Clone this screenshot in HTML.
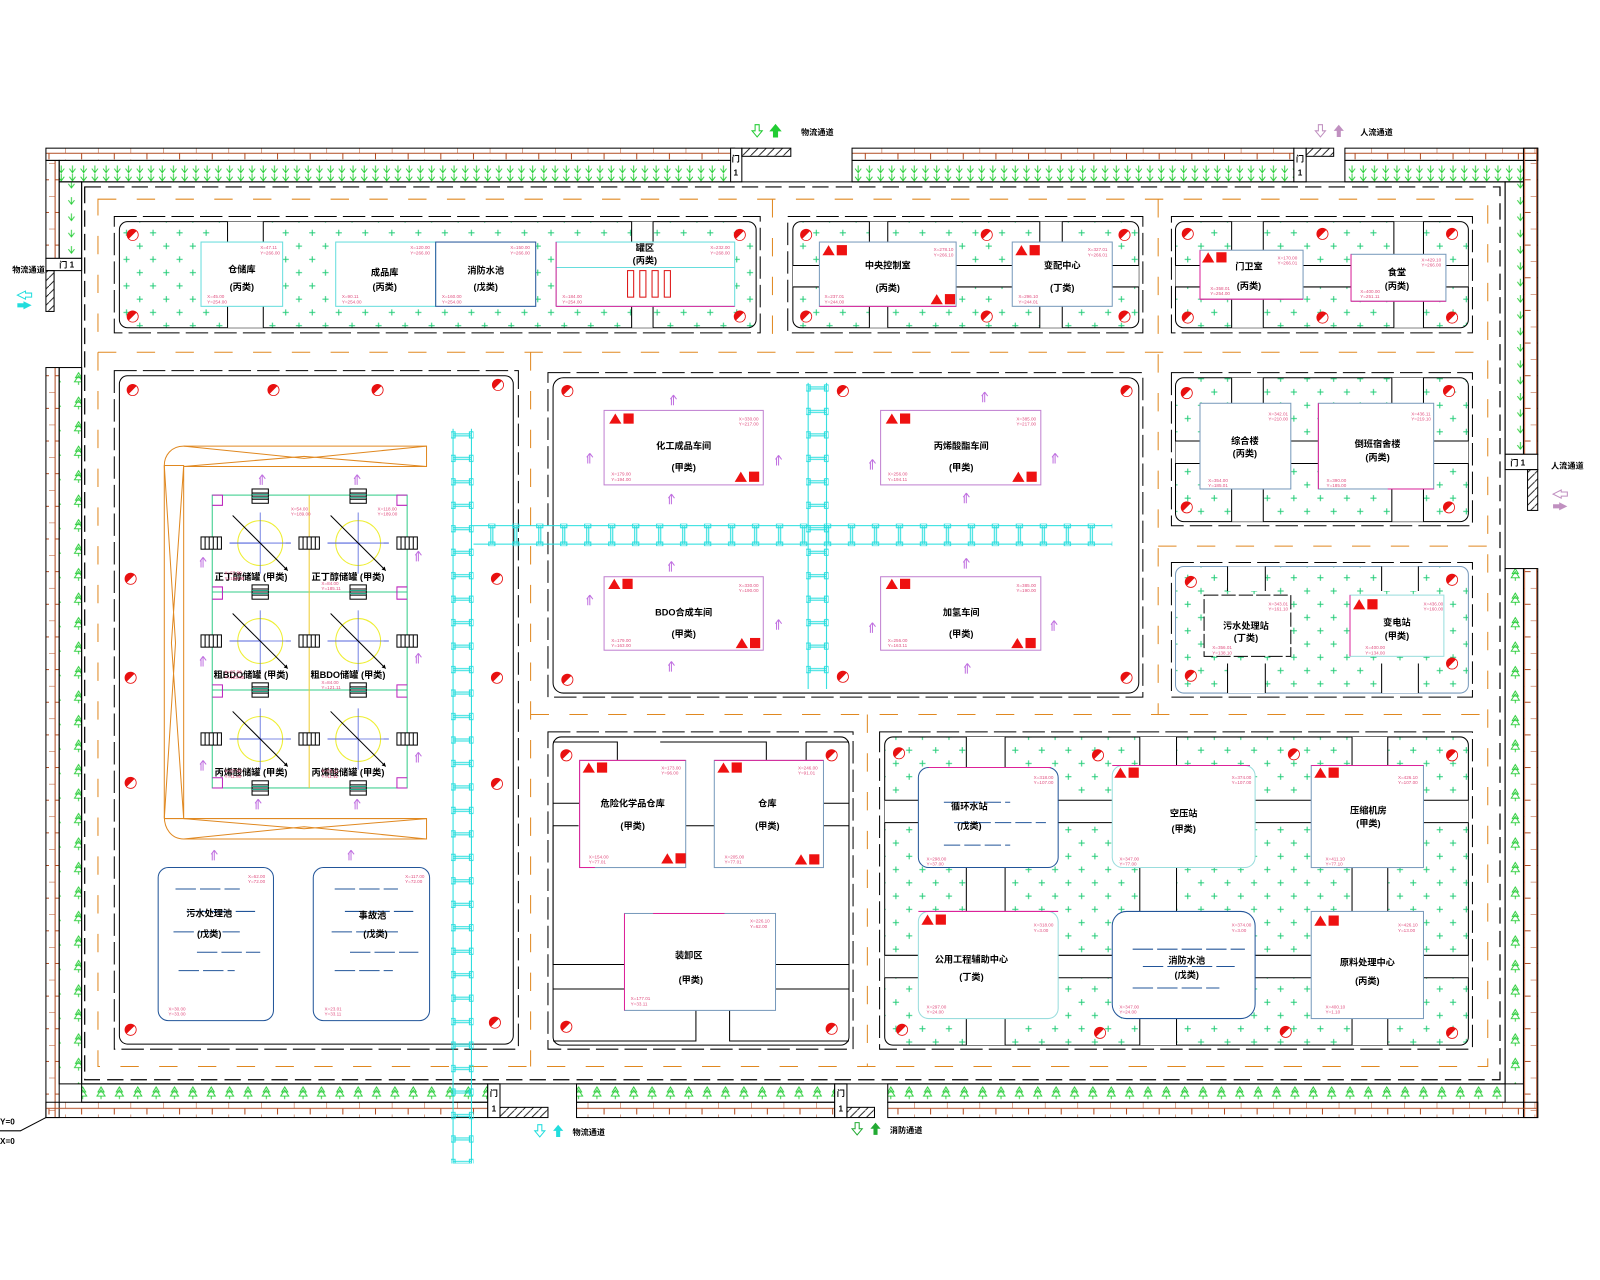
<!DOCTYPE html>
<html><head><meta charset="utf-8"><style>
html,body{margin:0;padding:0;background:#fff;}
svg{display:block;}
.t{font-family:"Liberation Sans","Noto Sans CJK SC",sans-serif;font-size:9px;font-weight:bold;fill:#000;text-anchor:middle;}
.p{font-family:"Liberation Sans",sans-serif;font-size:4.5px;fill:#e05080;}
.s{font-family:"Liberation Sans","Noto Sans CJK SC",sans-serif;font-size:8px;font-weight:bold;fill:#000;}
</style></head><body>
<svg width="1600" height="1280" viewBox="0 0 1568 1254" xmlns="http://www.w3.org/2000/svg">
<defs>
<pattern id="cr" width="26" height="26" patternUnits="userSpaceOnUse">
<path d="M4 7h6M7 4v6M17 20h6M20 17v6" stroke="#22cc77" stroke-width="1"/></pattern>
<pattern id="bh" width="32" height="12" patternUnits="userSpaceOnUse">
<path d="M0 6h32M0 0v6M16 6v6" stroke="#b04a20" stroke-width="1" fill="none"/></pattern>
<pattern id="bv" width="12" height="32" patternUnits="userSpaceOnUse">
<path d="M6 0v32M0 0h6M6 16h6" stroke="#b04a20" stroke-width="1" fill="none"/></pattern>
<pattern id="ad" width="11" height="20" patternUnits="userSpaceOnUse">
<path d="M2 5l3 4l3-4M5 2v7M2 13l3 4l3-4M5 10v7" stroke="#22cc33" stroke-width="0.9" fill="none"/></pattern>
<pattern id="adv" width="20" height="16" patternUnits="userSpaceOnUse">
<path d="M7 4l3 4l3-4M10 1v7" stroke="#22cc33" stroke-width="0.9" fill="none"/></pattern>
<pattern id="trh" width="18" height="18" patternUnits="userSpaceOnUse">
<path d="M9 3l-3 5h6zM9 6l-4 6h8zM9 12v3" stroke="#22cc33" stroke-width="0.9" fill="none"/></pattern>
<pattern id="trv" width="22" height="24" patternUnits="userSpaceOnUse">
<path d="M11 5l-3 5h6zM11 8l-4 6h8zM11 14v3" stroke="#22cc33" stroke-width="0.9" fill="none"/></pattern>
<pattern id="lv" width="22" height="23" patternUnits="userSpaceOnUse" x="442">
<path d="M2 0v23M20 0v23M2 11h18M2 13h18" stroke="#22dddd" stroke-width="1"/>
<rect x="0" y="9" width="4" height="6" fill="none" stroke="#22dddd"/><rect x="18" y="9" width="4" height="6" fill="none" stroke="#22dddd"/></pattern>
<pattern id="lv2" width="22" height="23" patternUnits="userSpaceOnUse" x="790">
<path d="M2 0v23M20 0v23M2 11h18M2 13h18" stroke="#22dddd" stroke-width="1"/>
<rect x="0" y="9" width="4" height="6" fill="none" stroke="#22dddd"/><rect x="18" y="9" width="4" height="6" fill="none" stroke="#22dddd"/></pattern>
<pattern id="lh" width="23.5" height="22" patternUnits="userSpaceOnUse" y="513">
<path d="M0 2h23.5M0 20h23.5M11 2v18M13 2v18" stroke="#22dddd" stroke-width="1"/>
<rect x="9" y="0" width="6" height="4" fill="none" stroke="#22dddd"/><rect x="9" y="18" width="6" height="4" fill="none" stroke="#22dddd"/></pattern>
<pattern id="hat" width="8" height="8" patternUnits="userSpaceOnUse"><path d="M0 8L8 0" stroke="#000" stroke-width="0.8"/></pattern>
<g id="hy"><circle r="5.5" fill="#e81010"/><path d="M-4 4A5.5 5.5 0 0 0 4 -4Z" fill="#fff"/><circle r="5.5" fill="none" stroke="#e81010" stroke-width="0.8"/></g>
<g id="fi"><polygon points="0,10 6,0 12,10" fill="#ee1111"/><rect x="14" y="0" width="10" height="10" fill="#ee1111"/></g>
<g id="ua"><path d="M0 0l-3 4M0 0l3 4M0 0v10M-2 3v7" stroke="#c070e0" stroke-width="1" fill="none"/></g>
<g id="tank"><circle r="22" fill="none" stroke="#eeee33"/><path d="M-30 0h30M30 0h-5" stroke="#5566dd"/><path d="M0 -30v60M-30 0h60" stroke="#5566dd" stroke-width="0.8"/><path d="M-27 -27L27 27" stroke="#000" stroke-width="1"/><path d="M27 27l-4-1l3-3z" fill="#000"/></g>
<g id="lad"><rect x="-8" y="-7" width="16" height="14" fill="#fff" stroke="#000"/><path d="M-8 -3h16M-8 0h16M-8 3h16" stroke="#000"/><path d="M-8 -1.5h16M-8 1.5h16" stroke="#2a8"/></g>
<g id="ladv"><rect x="-10" y="-6" width="20" height="12" fill="#fff" stroke="#000"/><path d="M-6 -6v12M-2 -6v12M2 -6v12M6 -6v12" stroke="#000"/></g>
</defs>

<!-- WALLS top -->
<rect x="45" y="145" width="675" height="12" fill="url(#bh)" stroke="#000" stroke-width="1"/>
<rect x="58" y="157" width="662" height="21" fill="url(#ad)" stroke="#000"/>
<rect x="716" y="145" width="11" height="33" fill="#fff" stroke="#000"/><text x="721" y="158" class="s" text-anchor="middle" font-size="6">门</text><text x="721" y="172" class="s" text-anchor="middle" font-size="7">1</text>
<rect x="727" y="145" width="48" height="8" fill="url(#hat)" stroke="#000"/>
<rect x="835" y="145" width="433" height="12" fill="url(#bh)" stroke="#000"/>
<rect x="835" y="157" width="433" height="21" fill="url(#ad)" stroke="#000"/>
<rect x="1268" y="145" width="12" height="33" fill="#fff" stroke="#000"/><text x="1274" y="158" class="s" text-anchor="middle" font-size="6">门</text><text x="1274" y="172" class="s" text-anchor="middle" font-size="7">1</text>
<rect x="1280" y="145" width="27" height="8" fill="url(#hat)" stroke="#000"/>
<rect x="1318" y="145" width="189" height="12" fill="url(#bh)" stroke="#000"/>
<rect x="1318" y="157" width="175" height="21" fill="url(#ad)" stroke="#000"/>
<!-- left -->
<rect x="45" y="157" width="13" height="96" fill="url(#bv)" stroke="#000"/>
<rect x="58" y="178" width="22" height="75" fill="url(#adv)" stroke="#000"/>
<rect x="45" y="253" width="35" height="12" fill="#fff" stroke="#000"/><text x="58" y="262" class="s" font-size="6">门 1</text>
<rect x="45" y="265" width="8" height="40" fill="url(#hat)" stroke="#000"/>
<rect x="45" y="360" width="13" height="735" fill="url(#bv)" stroke="#000"/>
<rect x="58" y="360" width="22" height="702" fill="url(#trv)" stroke="#000"/>
<!-- right -->
<rect x="1493" y="145" width="14" height="300" fill="url(#bv)" stroke="#000"/>
<rect x="1475" y="178" width="18" height="267" fill="url(#adv)" stroke="#000"/>
<rect x="1475" y="445" width="32" height="15" fill="#fff" stroke="#000"/><text x="1480" y="456" class="s" font-size="6">门 1</text>
<rect x="1497" y="460" width="10" height="40" fill="url(#hat)" stroke="#000"/>
<rect x="1493" y="557" width="14" height="538" fill="url(#bv)" stroke="#000"/>
<rect x="1475" y="557" width="18" height="505" fill="url(#trv)" stroke="#000"/>
<!-- bottom -->
<rect x="45" y="1080" width="433" height="15" fill="url(#bh)" stroke="#000"/>
<rect x="80" y="1062" width="398" height="18" fill="url(#trh)" stroke="#000"/>
<rect x="478" y="1062" width="12" height="33" fill="#fff" stroke="#000"/><text x="484" y="1074" class="s" text-anchor="middle" font-size="6">门</text><text x="484" y="1089" class="s" text-anchor="middle" font-size="7">1</text>
<rect x="490" y="1085" width="47" height="10" fill="url(#hat)" stroke="#000"/>
<rect x="565" y="1080" width="253" height="15" fill="url(#bh)" stroke="#000"/>
<rect x="565" y="1062" width="253" height="18" fill="url(#trh)" stroke="#000"/>
<rect x="818" y="1062" width="12" height="33" fill="#fff" stroke="#000"/><text x="824" y="1074" class="s" text-anchor="middle" font-size="6">门</text><text x="824" y="1089" class="s" text-anchor="middle" font-size="7">1</text>
<rect x="830" y="1085" width="27" height="10" fill="url(#hat)" stroke="#000"/>
<rect x="870" y="1080" width="637" height="15" fill="url(#bh)" stroke="#000"/>
<rect x="870" y="1062" width="605" height="18" fill="url(#trh)" stroke="#000"/>
<path d="M45 1095L20 1108H0" stroke="#000" fill="none"/>
<text x="0" y="1102" class="s" font-weight="normal" font-size="11">Y=0</text>
<text x="0" y="1121" class="s" font-weight="normal" font-size="11">X=0</text>

<!-- gate labels -->
<g transform="translate(740,122)"><path d="M0 0h4v6h3l-5 6l-5-6h3z" fill="#fff" stroke="#22cc33"/><path d="M18 12h4v-6h3l-5-6l-5 6h3z" fill="#22cc33" stroke="#22cc33"/></g><text x="785" y="132" class="s" font-size="7">物流通道</text>
<g transform="translate(1292,122)"><path d="M0 0h4v6h3l-5 6l-5-6h3z" fill="#fff" stroke="#c090c0"/><path d="M18 12h4v-6h3l-5-6l-5 6h3z" fill="#c090c0"/></g><text x="1333" y="132" class="s" font-size="7">人流通道</text>
<g transform="translate(15,285)"><path d="M10 0l-8 4l8 4v-2h6v-4h-6z" fill="#fff" stroke="#22dddd"/><path d="M2 12v4h6v2l8-4l-8-4v2z" fill="#22dddd"/></g><text x="12" y="267" class="s" font-size="6">物流通道</text>
<g transform="translate(1522,480)"><path d="M8 0l-8 4l8 4v-2h6v-4h-6z" fill="#fff" stroke="#c090c0"/><path d="M0 14v4h6v2l8-4l-8-4v2z" fill="#c090c0"/></g><text x="1520" y="459" class="s" font-size="7">人流通道</text>
<g transform="translate(527,1102)"><path d="M0 0h4v6h3l-5 6l-5-6h3z" fill="#fff" stroke="#22dddd"/><path d="M18 12h4v-6h3l-5-6l-5 6h3z" fill="#22dddd"/></g><text x="561" y="1112" class="s" font-size="7">物流通道</text>
<g transform="translate(838,1100)"><path d="M0 0h4v6h3l-5 6l-5-6h3z" fill="#fff" stroke="#22aa33"/><path d="M18 12h4v-6h3l-5-6l-5 6h3z" fill="#22aa33"/></g><text x="872" y="1110" class="s" font-size="7">消防通道</text>

<!-- roads -->
<path d="M80 178H1475V1062H80Z" fill="none" stroke="#000" stroke-width="1"/>
<path d="M83 183H1470V1058H83Z" fill="none" stroke="#000" stroke-width="1.2" stroke-dasharray="16 7"/>
<g stroke="#e08820" stroke-width="1" fill="none" stroke-dasharray="18 20">
<path d="M96 195H1458V1045H96Z"/>
<path d="M96 345H1458"/><path d="M520 700H1458"/><path d="M1135 535H1458"/>
<path d="M520 345V1045"/><path d="M757 195V345"/><path d="M1135 195V700"/><path d="M850 700V1045"/>
</g>

<!-- BLOCK A -->
<rect x="112" y="212" width="633" height="114" fill="none" stroke="#000" stroke-dasharray="22 6"/>
<rect x="117" y="217" width="624" height="104" rx="8" fill="url(#cr)" stroke="#000"/>
<rect x="223" y="217" width="35" height="104" fill="#fff"/><rect x="619" y="217" width="21" height="104" fill="#fff"/>
<path d="M223 217v104M258 217v104M619 217v104M640 217v104" stroke="#000"/>
<rect x="197" y="237" width="80" height="63" fill="#fff" stroke="#66dddd"/><text x="237" y="267" class="t">仓储库</text><text x="237" y="284" class="t">(丙类)</text>
<rect x="329" y="237" width="98" height="63" fill="#fff" stroke="#66dddd"/><text x="377" y="270" class="t">成品库</text><text x="377" y="284" class="t">(丙类)</text>
<rect x="427" y="237" width="98" height="63" fill="#fff" stroke="#225599"/><text x="476" y="268" class="t">消防水池</text><text x="476" y="284" class="t">(戊类)</text>
<rect x="545" y="237" width="175" height="63" fill="#fff" stroke="#66dddd"/><path d="M545 262H720" stroke="#66dddd"/><path d="M545 300H720M545 237v63" stroke="#dd2299" fill="none"/><text x="632" y="246" class="t">罐区</text><text x="632" y="258" class="t">(丙类)</text>
<g fill="none" stroke="#dd1111"><rect x="615" y="265" width="6" height="26"/><rect x="627" y="265" width="6" height="26"/><rect x="639" y="265" width="6" height="26"/><rect x="651" y="265" width="6" height="26"/></g>
<g class="p"><text x="255" y="244">X=47.11</text><text x="255" y="249">Y=266.00</text><text x="203" y="292">X=45.00</text><text x="203" y="297">Y=254.00</text>
<text x="402" y="244">X=120.00</text><text x="402" y="249">Y=266.00</text><text x="335" y="292">X=90.11</text><text x="335" y="297">Y=254.00</text>
<text x="500" y="244">X=150.00</text><text x="500" y="249">Y=266.00</text><text x="433" y="292">X=160.00</text><text x="433" y="297">Y=254.00</text>
<text x="696" y="244">X=232.00</text><text x="696" y="249">Y=268.00</text><text x="551" y="292">X=184.00</text><text x="551" y="297">Y=254.00</text></g>
<use href="#hy" x="130" y="230"/><use href="#hy" x="130" y="310"/><use href="#hy" x="725" y="230"/><use href="#hy" x="725" y="310"/>

<!-- BLOCK B -->
<rect x="772" y="212" width="348" height="114" fill="none" stroke="#000" stroke-dasharray="22 6"/>
<rect x="777" y="217" width="339" height="104" rx="8" fill="url(#cr)" stroke="#000"/>
<rect x="852" y="217" width="18" height="104" fill="#fff"/><rect x="1019" y="217" width="22" height="104" fill="#fff"/><rect x="777" y="260" width="339" height="21" fill="#fff"/>
<path d="M852 217v43M870 217v43M852 281v40M870 281v40M1019 217v43M1041 217v43M1019 281v40M1041 281v40M777 260H1116M777 281H1116" stroke="#000"/>
<rect x="803" y="237" width="134" height="63" fill="#fff" stroke="#7799bb"/><path d="M803 300h134" stroke="#dd2299"/><text x="870" y="263" class="t">中央控制室</text><text x="870" y="285" class="t">(丙类)</text>
<rect x="992" y="237" width="98" height="63" fill="#fff" stroke="#7799bb"/><text x="1041" y="263" class="t">变配中心</text><text x="1041" y="285" class="t">(丁类)</text>
<use href="#fi" x="806" y="240"/><use href="#fi" x="912" y="288"/><use href="#fi" x="995" y="240"/>
<g class="p"><text x="915" y="246">X=278.10</text><text x="915" y="251">Y=266.10</text><text x="808" y="292">X=237.01</text><text x="808" y="297">Y=244.00</text>
<text x="1066" y="246">X=327.01</text><text x="1066" y="251">Y=266.01</text><text x="998" y="292">X=296.10</text><text x="998" y="297">Y=244.01</text></g>
<use href="#hy" x="790" y="230"/><use href="#hy" x="790" y="310"/><use href="#hy" x="967" y="230"/><use href="#hy" x="967" y="310"/><use href="#hy" x="1102" y="230"/><use href="#hy" x="1102" y="310"/>

<!-- BLOCK C -->
<rect x="1148" y="212" width="295" height="114" fill="none" stroke="#000" stroke-dasharray="22 6"/>
<rect x="1152" y="217" width="287" height="104" rx="8" fill="url(#cr)" stroke="#000"/>
<rect x="1207" y="217" width="31" height="104" fill="#fff"/><rect x="1366" y="217" width="29" height="104" fill="#fff"/><rect x="1152" y="260" width="287" height="21" fill="#fff"/>
<path d="M1207 217v43M1238 217v43M1207 281v40M1238 281v40M1366 217v43M1395 217v43M1366 281v40M1395 281v40M1152 260H1439M1152 281H1439" stroke="#000"/>
<rect x="1176" y="245" width="101" height="48" fill="#fff" stroke="#7799bb"/><path d="M1176 293h101M1176 245v48" stroke="#dd2299" fill="none"/><text x="1224" y="264" class="t">门卫室</text><text x="1224" y="283" class="t">(丙类)</text>
<rect x="1324" y="249" width="93" height="46" fill="#fff" stroke="#7799bb"/><path d="M1324 295h93M1324 249v46" stroke="#dd2299" fill="none"/><text x="1369" y="270" class="t">食堂</text><text x="1369" y="283" class="t">(丙类)</text>
<use href="#fi" x="1178" y="247"/>
<g class="p"><text x="1252" y="254">X=170.00</text><text x="1252" y="259">Y=266.01</text><text x="1186" y="284">X=358.01</text><text x="1186" y="289">Y=254.00</text>
<text x="1393" y="256">X=429.10</text><text x="1393" y="261">Y=266.00</text><text x="1333" y="287">X=400.00</text><text x="1333" y="292">Y=251.11</text></g>
<use href="#hy" x="1164" y="229"/><use href="#hy" x="1296" y="229"/><use href="#hy" x="1423" y="229"/><use href="#hy" x="1164" y="311"/><use href="#hy" x="1296" y="311"/><use href="#hy" x="1423" y="311"/>

<!-- BLOCK D -->
<rect x="112" y="363" width="396" height="665" fill="none" stroke="#000" stroke-dasharray="22 6"/>
<rect x="117" y="368" width="386" height="655" rx="8" fill="#fff" stroke="#000"/>
<g fill="none" stroke="#e08820" stroke-width="1">
<path d="M180 437H418V457H180 M180 437C168 437 161 446 161 456V800C161 812 168 822 180 822H418V802H180"/>
<path d="M180 437L298 449L418 437M180 457L298 447L418 457M180 822L298 810L418 822M180 802L298 812L418 802"/>
<path d="M161 456H180V802H161M161 456L172 630L161 802M180 456L168 630L180 802"/>
</g>
<g stroke="#33cc88" fill="none"><rect x="208" y="485" width="191" height="287"/><path d="M208 580H399M208 676H399"/></g>
<path d="M303 485V772" stroke="#eecc33"/>
<use href="#tank" x="255" y="532"/><use href="#tank" x="351" y="532"/><use href="#tank" x="255" y="628"/><use href="#tank" x="351" y="628"/><use href="#tank" x="255" y="724"/><use href="#tank" x="351" y="724"/>
<g><use href="#lad" x="255" y="486"/><use href="#lad" x="351" y="486"/><use href="#lad" x="255" y="580"/><use href="#lad" x="351" y="580"/><use href="#lad" x="255" y="676"/><use href="#lad" x="351" y="676"/><use href="#lad" x="255" y="772"/><use href="#lad" x="351" y="772"/>
<use href="#ladv" x="207" y="532"/><use href="#ladv" x="303" y="532"/><use href="#ladv" x="399" y="532"/><use href="#ladv" x="207" y="628"/><use href="#ladv" x="303" y="628"/><use href="#ladv" x="399" y="628"/><use href="#ladv" x="207" y="724"/><use href="#ladv" x="303" y="724"/><use href="#ladv" x="399" y="724"/></g>
<g fill="none" stroke="#bb22bb"><path d="M208 485h10v10h-10M399 485h-10v10h10M208 575h10v12h-10M399 575h-10v12h10M208 671h10v12h-10M399 671h-10v12h10M208 762h10v10h-10M399 762h-10v10h10"/></g>
<text x="246" y="568" class="t" font-size="8">正丁醇储罐 (甲类)</text><text x="341" y="568" class="t" font-size="8">正丁醇储罐 (甲类)</text>
<text x="246" y="664" class="t" font-size="8">粗BDO储罐 (甲类)</text><text x="341" y="664" class="t" font-size="8">粗BDO储罐 (甲类)</text>
<text x="246" y="760" class="t" font-size="8">丙烯酸储罐 (甲类)</text><text x="341" y="760" class="t" font-size="8">丙烯酸储罐 (甲类)</text>
<g class="p"><text x="285" y="500">X=54.00</text><text x="285" y="505">Y=189.00</text><text x="370" y="500">X=118.00</text><text x="370" y="505">Y=189.00</text>
<text x="220" y="563">X=57.00</text><text x="220" y="568">Y=189.00</text><text x="315" y="573">X=84.00</text><text x="315" y="578">Y=185.11</text>
<text x="220" y="660">X=57.00</text><text x="220" y="665">Y=123.00</text><text x="315" y="670">X=84.00</text><text x="315" y="675">Y=121.11</text>
<text x="220" y="757">X=57.00</text><text x="220" y="762">Y=11.00</text><text x="315" y="757">X=53.11</text><text x="315" y="762">Y=11.11</text></g>
<use href="#ua" x="257" y="465"/><use href="#ua" x="350" y="465"/><use href="#ua" x="199" y="546"/><use href="#ua" x="410" y="540"/><use href="#ua" x="199" y="643"/><use href="#ua" x="410" y="640"/><use href="#ua" x="199" y="745"/><use href="#ua" x="410" y="737"/><use href="#ua" x="253" y="783"/><use href="#ua" x="350" y="783"/>
<use href="#ua" x="210" y="833"/><use href="#ua" x="344" y="833"/>
<rect x="155" y="850" width="113" height="150" rx="10" fill="#fff" stroke="#225599"/>
<rect x="307" y="850" width="114" height="150" rx="10" fill="#fff" stroke="#225599"/>
<g stroke="#225599" stroke-dasharray="20 4"><path d="M172 871H235M183 893H250M170 913H235M193 933H255M175 951H230"/><path d="M328 871H390M338 893H405M325 913H390M343 933H410M328 951H385"/></g>
<text x="205" y="898" class="t">污水处理池</text><text x="205" y="918" class="t">(戊类)</text>
<text x="365" y="900" class="t">事故池</text><text x="368" y="918" class="t">(戊类)</text>
<g class="p"><text x="243" y="860">X=62.00</text><text x="243" y="865">Y=72.00</text><text x="165" y="990">X=30.00</text><text x="165" y="995">Y=33.00</text>
<text x="397" y="860">X=117.00</text><text x="397" y="865">Y=72.00</text><text x="318" y="990">X=23.01</text><text x="318" y="995">Y=33.11</text></g>
<use href="#hy" x="130" y="382"/><use href="#hy" x="268" y="382"/><use href="#hy" x="370" y="382"/><use href="#hy" x="488" y="377"/>
<use href="#hy" x="128" y="567"/><use href="#hy" x="128" y="664"/><use href="#hy" x="128" y="767"/><use href="#hy" x="487" y="567"/><use href="#hy" x="487" y="664"/><use href="#hy" x="487" y="768"/><use href="#hy" x="128" y="1009"/><use href="#hy" x="485" y="1002"/>

<!-- BLOCK E -->
<rect x="537" y="365" width="583" height="318" fill="none" stroke="#000" stroke-dasharray="22 6"/>
<rect x="542" y="370" width="574" height="309" rx="10" fill="#fff" stroke="#000"/>
<g fill="#fff" stroke="#c080d0"><rect x="592" y="402" width="156" height="73"/><rect x="863" y="402" width="157" height="73"/><rect x="592" y="565" width="156" height="72"/><rect x="863" y="565" width="157" height="72"/></g>
<text x="670" y="440" class="t">化工成品车间</text><text x="670" y="461" class="t">(甲类)</text>
<text x="942" y="440" class="t">丙烯酸酯车间</text><text x="942" y="461" class="t">(甲类)</text>
<text x="670" y="603" class="t">BDO合成车间</text><text x="670" y="624" class="t">(甲类)</text>
<text x="942" y="603" class="t">加氢车间</text><text x="942" y="624" class="t">(甲类)</text>
<use href="#fi" x="597" y="405"/><use href="#fi" x="720" y="462"/><use href="#fi" x="868" y="405"/><use href="#fi" x="992" y="462"/><use href="#fi" x="596" y="567"/><use href="#fi" x="721" y="625"/><use href="#fi" x="868" y="567"/><use href="#fi" x="991" y="625"/>
<g class="p"><text x="724" y="412">X=330.00</text><text x="724" y="417">Y=217.00</text><text x="599" y="466">X=179.00</text><text x="599" y="471">Y=194.00</text>
<text x="996" y="412">X=385.00</text><text x="996" y="417">Y=217.00</text><text x="870" y="466">X=256.00</text><text x="870" y="471">Y=194.11</text>
<text x="724" y="575">X=330.00</text><text x="724" y="580">Y=190.00</text><text x="599" y="629">X=179.00</text><text x="599" y="634">Y=163.00</text>
<text x="996" y="575">X=385.00</text><text x="996" y="580">Y=190.00</text><text x="870" y="629">X=256.00</text><text x="870" y="634">Y=163.11</text></g>
<use href="#ua" x="660" y="387"/><use href="#ua" x="578" y="444"/><use href="#ua" x="763" y="446"/><use href="#ua" x="658" y="484"/><use href="#ua" x="965" y="384"/><use href="#ua" x="855" y="450"/><use href="#ua" x="1034" y="444"/><use href="#ua" x="947" y="483"/>
<use href="#ua" x="658" y="550"/><use href="#ua" x="578" y="583"/><use href="#ua" x="763" y="607"/><use href="#ua" x="658" y="648"/><use href="#ua" x="947" y="547"/><use href="#ua" x="855" y="610"/><use href="#ua" x="1033" y="608"/><use href="#ua" x="948" y="650"/>
<use href="#hy" x="556" y="383"/><use href="#hy" x="826" y="383"/><use href="#hy" x="1104" y="383"/><use href="#hy" x="556" y="666"/><use href="#hy" x="826" y="663"/><use href="#hy" x="1104" y="664"/>

<!-- BLOCK F -->
<rect x="1148" y="365" width="295" height="150" fill="none" stroke="#000" stroke-dasharray="22 6"/>
<rect x="1152" y="370" width="287" height="141" rx="8" fill="url(#cr)" stroke="#000"/>
<rect x="1207" y="370" width="31" height="141" fill="#fff"/><rect x="1364" y="370" width="31" height="141" fill="#fff"/><rect x="1152" y="432" width="287" height="22" fill="#fff"/>
<path d="M1207 370v62M1238 370v62M1207 454v57M1238 454v57M1364 370v62M1395 370v62M1364 454v57M1395 454v57M1152 432H1439M1152 454H1439" stroke="#000"/>
<rect x="1176" y="395" width="89" height="84" fill="#fff" stroke="#7799bb"/><text x="1220" y="435" class="t">综合楼</text><text x="1220" y="447" class="t">(丙类)</text>
<rect x="1292" y="395" width="113" height="84" fill="#fff" stroke="#7799bb"/><path d="M1292 395v84M1360 479h45" stroke="#dd2299" fill="none"/><text x="1350" y="438" class="t">倒班宿舍楼</text><text x="1350" y="451" class="t">(丙类)</text>
<g class="p"><text x="1243" y="407">X=342.01</text><text x="1243" y="412">Y=210.00</text><text x="1184" y="472">X=354.00</text><text x="1184" y="477">Y=185.01</text>
<text x="1383" y="407">X=436.11</text><text x="1383" y="412">Y=219.10</text><text x="1300" y="472">X=390.00</text><text x="1300" y="477">Y=185.00</text></g>
<use href="#hy" x="1163" y="385"/><use href="#hy" x="1420" y="383"/><use href="#hy" x="1163" y="497"/><use href="#hy" x="1420" y="497"/>

<!-- BLOCK G -->
<rect x="1148" y="551" width="295" height="132" fill="none" stroke="#000" stroke-dasharray="22 6"/>
<rect x="1152" y="555" width="287" height="124" rx="8" fill="url(#cr)" stroke="#7799bb"/>
<rect x="1203" y="555" width="37" height="24" fill="#fff"/><rect x="1354" y="555" width="36" height="24" fill="#fff"/><rect x="1203" y="650" width="37" height="29" fill="#fff"/><rect x="1354" y="650" width="36" height="29" fill="#fff"/>
<path d="M1203 555v24M1240 555v24M1203 650v29M1240 650v29M1354 555v24M1390 555v24M1354 650v29M1390 650v29" stroke="#000"/>
<rect x="1180" y="583" width="85" height="60" fill="#fff" stroke="#000" stroke-dasharray="14 3"/><text x="1221" y="616" class="t">污水处理站</text><text x="1221" y="628" class="t">(丁类)</text>
<rect x="1323" y="583" width="92" height="60" fill="#fff" stroke="#99dddd"/><path d="M1323 583v60" stroke="#dd2299"/><text x="1369" y="613" class="t">变电站</text><text x="1369" y="626" class="t">(甲类)</text>
<use href="#fi" x="1326" y="587"/>
<g class="p"><text x="1243" y="593">X=343.01</text><text x="1243" y="598">Y=161.10</text><text x="1188" y="636">X=356.01</text><text x="1188" y="641">Y=138.10</text>
<text x="1395" y="593">X=436.00</text><text x="1395" y="598">Y=160.00</text><text x="1338" y="636">X=400.00</text><text x="1338" y="641">Y=134.00</text></g>
<use href="#hy" x="1167" y="570"/><use href="#hy" x="1423" y="568"/><use href="#hy" x="1167" y="662"/><use href="#hy" x="1423" y="650"/>

<!-- BLOCK H -->
<rect x="537" y="717" width="299" height="311" fill="none" stroke="#000" stroke-dasharray="22 6"/>
<rect x="542" y="722" width="290" height="302" rx="8" fill="#fff" stroke="#000"/>
<g fill="none" stroke="#000"><path d="M542 727H605V787H542M647 727H751V745M790 727H832M790 727V787H832"/>
<path d="M542 809H567M672 809H700M807 809H832V945H760M612 945H542V809"/><path d="M542 969H612M760 969H832M682 990V1020H542M715 990V1020H832"/></g>
<rect x="568" y="745" width="104" height="105" fill="#fff" stroke="#7799bb"/><path d="M583 850H568V745H672" stroke="#dd2299" fill="none"/>
<rect x="700" y="745" width="107" height="105" fill="#fff" stroke="#7799bb"/><path d="M700 745h107" stroke="#dd2299" fill="none"/>
<rect x="612" y="895" width="148" height="95" fill="#fff" stroke="#7799bb"/><path d="M612 895v95M640 895h70" stroke="#dd2299" fill="none"/>
<text x="620" y="790" class="t">危险化学品仓库</text><text x="620" y="812" class="t">(甲类)</text>
<text x="752" y="790" class="t">仓库</text><text x="752" y="812" class="t">(甲类)</text>
<text x="675" y="939" class="t">装卸区</text><text x="677" y="963" class="t">(甲类)</text>
<use href="#fi" x="571" y="747"/><use href="#fi" x="648" y="836"/><use href="#fi" x="703" y="747"/><use href="#fi" x="779" y="837"/>
<g class="p"><text x="648" y="754">X=173.00</text><text x="648" y="759">Y=96.00</text><text x="577" y="841">X=154.00</text><text x="577" y="846">Y=77.01</text>
<text x="782" y="754">X=246.00</text><text x="782" y="759">Y=91.01</text><text x="710" y="841">X=205.00</text><text x="710" y="846">Y=77.01</text>
<text x="735" y="904">X=226.10</text><text x="735" y="909">Y=62.00</text><text x="618" y="980">X=177.01</text><text x="618" y="985">Y=33.11</text></g>
<use href="#hy" x="555" y="740"/><use href="#hy" x="815" y="740"/><use href="#hy" x="555" y="1006"/><use href="#hy" x="815" y="1008"/>

<!-- BLOCK I -->
<rect x="862" y="717" width="581" height="311" fill="none" stroke="#000" stroke-dasharray="22 6"/>
<rect x="867" y="722" width="572" height="302" rx="8" fill="url(#cr)" stroke="#000"/>
<g fill="#fff"><rect x="947" y="722" width="38" height="302"/><rect x="1117" y="722" width="36" height="302"/><rect x="1325" y="722" width="35" height="302"/><rect x="867" y="784" width="572" height="22"/><rect x="867" y="936" width="572" height="22"/></g>
<g stroke="#000"><path d="M947 722v62M985 722v62M947 806v130M985 806v130M947 958v66M985 958v66M1117 722v62M1153 722v62M1117 806v130M1153 806v130M1117 958v66M1153 958v66M1325 722v62M1360 722v62M1325 806v130M1360 806v130M1325 958v66M1360 958v66"/>
<path d="M867 784H1439M867 806H1439M867 936H1439M867 958H1439"/></g>
<rect x="900" y="752" width="137" height="98" rx="10" fill="#fff" stroke="#225599"/><path d="M910 752H1030" stroke="#dd2299"/>
<g stroke="#225599" stroke-dasharray="16 4"><path d="M925 786H990M935 806H1025M925 828H990"/></g>
<text x="950" y="793" class="t">循环水站</text><text x="950" y="812" class="t">(戊类)</text>
<rect x="1090" y="750" width="140" height="100" rx="10" fill="#fff" stroke="#99dddd"/><path d="M1090 750H1225" stroke="#dd2299"/>
<text x="1160" y="800" class="t">空压站</text><text x="1160" y="815" class="t">(甲类)</text>
<rect x="1285" y="750" width="110" height="100" fill="#fff" stroke="#7799bb"/><path d="M1285 750H1395" stroke="#dd2299"/>
<text x="1341" y="797" class="t">压缩机房</text><text x="1341" y="810" class="t">(甲类)</text>
<rect x="900" y="893" width="137" height="105" rx="10" fill="#fff" stroke="#99dddd"/><path d="M900 893H1037" stroke="#dd2299"/>
<text x="952" y="943" class="t">公用工程辅助中心</text><text x="952" y="960" class="t">(丁类)</text>
<rect x="1090" y="893" width="140" height="105" rx="14" fill="#fff" stroke="#225599"/>
<g stroke="#225599" stroke-dasharray="20 4"><path d="M1110 930H1220M1120 947H1210M1110 968H1195"/></g>
<text x="1163" y="944" class="t">消防水池</text><text x="1163" y="958" class="t">(戊类)</text>
<rect x="1285" y="893" width="110" height="105" fill="#fff" stroke="#7799bb"/>
<text x="1340" y="946" class="t">原料处理中心</text><text x="1340" y="964" class="t">(丙类)</text>
<use href="#fi" x="1092" y="752"/><use href="#fi" x="1288" y="752"/><use href="#fi" x="903" y="896"/><use href="#fi" x="1288" y="897"/>
<g class="p"><text x="1013" y="763">X=318.00</text><text x="1013" y="768">Y=107.00</text><text x="908" y="843">X=298.00</text><text x="908" y="848">Y=37.00</text>
<text x="1207" y="763">X=374.00</text><text x="1207" y="768">Y=107.00</text><text x="1097" y="843">X=347.00</text><text x="1097" y="848">Y=77.00</text>
<text x="1370" y="763">X=426.10</text><text x="1370" y="768">Y=107.00</text><text x="1299" y="843">X=411.10</text><text x="1299" y="848">Y=77.10</text>
<text x="1013" y="908">X=318.00</text><text x="1013" y="913">Y=3.00</text><text x="908" y="988">X=297.00</text><text x="908" y="993">Y=24.00</text>
<text x="1207" y="908">X=374.00</text><text x="1207" y="913">Y=3.00</text><text x="1097" y="988">X=347.00</text><text x="1097" y="993">Y=24.00</text>
<text x="1370" y="908">X=426.10</text><text x="1370" y="913">Y=13.00</text><text x="1299" y="988">X=400.10</text><text x="1299" y="993">Y=1.10</text></g>
<use href="#hy" x="881" y="738"/><use href="#hy" x="1076" y="740"/><use href="#hy" x="1268" y="739"/><use href="#hy" x="1423" y="740"/><use href="#hy" x="884" y="1009"/><use href="#hy" x="1078" y="1012"/><use href="#hy" x="1260" y="1011"/><use href="#hy" x="1423" y="1012"/>

<!-- PIPE RACKS -->
<rect x="442" y="420" width="22" height="720" fill="url(#lv)"/>
<rect x="790" y="375" width="22" height="300" fill="url(#lv2)"/>
<rect x="464" y="513" width="626" height="22" fill="url(#lh)"/>
</svg>
</body></html>
